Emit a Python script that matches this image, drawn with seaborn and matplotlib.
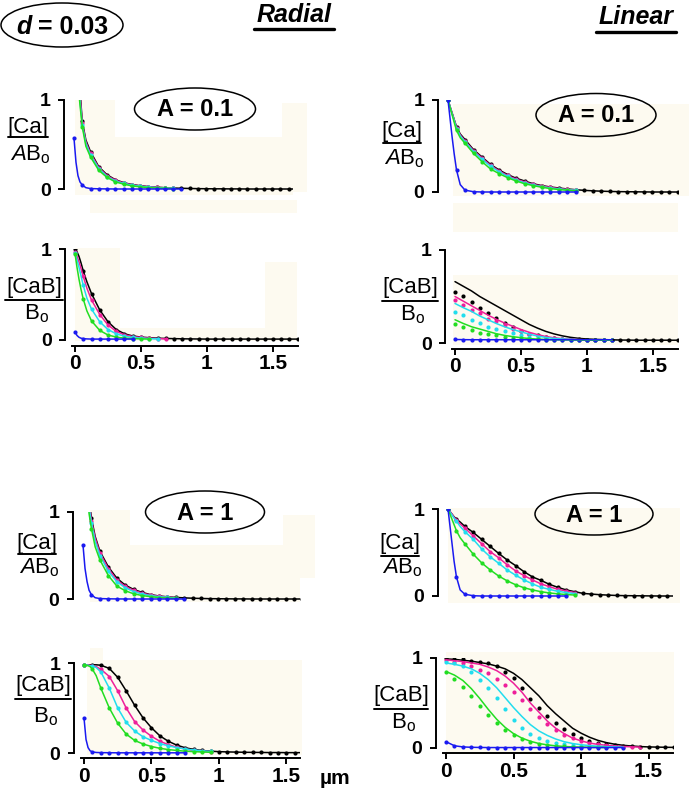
import numpy as np
import pandas as pd
import matplotlib
matplotlib.use("Agg")
import matplotlib.pyplot as plt
import seaborn as sns
from matplotlib.patches import Ellipse, Rectangle

sns.set_theme(style="white")
plt.rcParams["font.family"] = ["Liberation Sans", "DejaVu Sans"]
plt.rcParams["mathtext.fontset"] = "custom"
plt.rcParams["mathtext.rm"] = "Liberation Sans"
plt.rcParams["mathtext.it"] = "Liberation Sans:italic"
plt.rcParams["text.color"] = "black"
plt.rcParams["xtick.color"] = "black"
plt.rcParams["ytick.color"] = "black"

# distance grid (um) - lines drawn through every point, markers on the coarse subset
xs = [0.0, 0.015, 0.03, 0.045, 0.0625, 0.09, 0.125, 0.1875, 0.25, 0.3125, 0.375, 0.4375,
      0.5, 0.5625, 0.625, 0.6875, 0.75, 0.8125, 0.875, 0.9375, 1.0, 1.0625, 1.125, 1.1875,
      1.25, 1.3125, 1.375, 1.4375, 1.5, 1.5625, 1.625, 1.6875]
mark_idx = [0, 4] + list(range(6, 32))
# coarse grid for the linear [CaB] panels (lines and dots given separately)
xm = [0.0, 0.0625, 0.125, 0.1875, 0.25, 0.3125, 0.375, 0.4375, 0.5, 0.5625, 0.625, 0.6875,
      0.75, 0.8125, 0.875, 0.9375, 1.0, 1.0625, 1.125, 1.1875, 1.25, 1.3125, 1.375, 1.4375,
      1.5, 1.5625, 1.625, 1.6875]

# --- Radial, A = 0.1, [Ca]
black1 = [3.0, 2.0, 1.5, 1.12, 0.76, 0.55, 0.42, 0.25, 0.16, 0.105, 0.072, 0.05, 0.037, 0.027,
          0.02, 0.015, 0.011, 0.008, 0.006, 0.004, 0.003, 0.002, 0.002, 0.001, 0.001, 0.0, 0.0,
          0.0, 0.0, 0.0, 0.0, 0.0]
magenta1 = [2.8, 1.9, 1.4, 1.06, 0.74, 0.53, 0.40, 0.24, 0.15, 0.10, 0.068, 0.047, 0.034, 0.025,
            0.018, 0.013, 0.010]
cyan1 = [2.6, 1.8, 1.3, 1.0, 0.72, 0.51, 0.38, 0.23, 0.14, 0.09, 0.062, 0.043, 0.030, 0.022,
         0.016, 0.011, 0.008]
green1 = [2.4, 1.6, 1.2, 0.95, 0.70, 0.48, 0.36, 0.21, 0.13, 0.08, 0.055, 0.035, 0.024, 0.016,
          0.011, 0.008, 0.005]
blue1 = [0.57, 0.30, 0.15, 0.08, 0.045, 0.015, 0.005, 0.002, 0.001, 0.0, 0.0, 0.0, 0.0, 0.0,
         0.0, 0.0, 0.0, 0.0]

# --- Radial, A = 0.1, [CaB]
black2 = [1.0, 0.97, 0.92, 0.85, 0.76, 0.64, 0.51, 0.33, 0.2, 0.115, 0.068, 0.044, 0.032, 0.025,
          0.02, 0.017, 0.015, 0.013, 0.012, 0.011, 0.01, 0.01, 0.01, 0.01, 0.01, 0.01, 0.01,
          0.01, 0.01, 0.01, 0.01, 0.01]
magenta2 = [0.97, 0.92, 0.86, 0.79, 0.7, 0.57, 0.44, 0.28, 0.165, 0.095, 0.057, 0.038, 0.028,
            0.02, 0.015, 0.012]
cyan2 = [0.96, 0.88, 0.8, 0.71, 0.6, 0.46, 0.34, 0.2, 0.115, 0.068, 0.042, 0.028, 0.02, 0.015,
         0.012]
green2 = [0.95, 0.8, 0.67, 0.56, 0.45, 0.32, 0.21, 0.105, 0.055, 0.032, 0.02, 0.015, 0.012, 0.01]
blue2 = [0.09, 0.05, 0.03, 0.02, 0.015, 0.012, 0.01, 0.01, 0.01, 0.01, 0.01, 0.01]

# --- Linear, A = 0.1, [Ca]
black3 = [1.0, 0.93, 0.86, 0.79, 0.71, 0.63, 0.57, 0.46, 0.38, 0.30, 0.24, 0.19, 0.15, 0.12,
          0.09, 0.07, 0.055, 0.044, 0.033, 0.025, 0.018, 0.013, 0.009, 0.006, 0.004, 0.003,
          0.002, 0.001, 0.0, 0.0, 0.0, 0.0]
magenta3 = [1.0, 0.93, 0.855, 0.785, 0.70, 0.62, 0.555, 0.45, 0.37, 0.29, 0.23, 0.18, 0.14,
            0.11, 0.083, 0.064, 0.05, 0.038, 0.028, 0.021]
cyan3 = [1.0, 0.925, 0.85, 0.78, 0.69, 0.61, 0.545, 0.44, 0.355, 0.28, 0.22, 0.17, 0.13, 0.1,
         0.077, 0.058, 0.044, 0.033, 0.024, 0.018]
green3 = [1.0, 0.92, 0.84, 0.76, 0.67, 0.59, 0.53, 0.42, 0.33, 0.25, 0.20, 0.156, 0.12, 0.09,
          0.07, 0.052, 0.038, 0.027, 0.019, 0.013]
blue3 = [1.0, 0.8, 0.6, 0.42, 0.24, 0.08, 0.02, 0.003, 0.0, 0.0, 0.0, 0.0, 0.0, 0.0, 0.0, 0.0,
         0.0, 0.0, 0.0, 0.0]

# --- Linear, A = 0.1, [CaB]  (lines, then dots)
black4 = [0.66, 0.61, 0.56, 0.5, 0.45, 0.4, 0.35, 0.3, 0.25, 0.2, 0.16, 0.125, 0.098, 0.077,
          0.061, 0.05, 0.043, 0.039, 0.036, 0.034, 0.032, 0.031, 0.03, 0.03, 0.03, 0.03, 0.03, 0.03]
magenta4 = [0.5, 0.45, 0.4, 0.35, 0.3, 0.255, 0.215, 0.18, 0.145, 0.115, 0.09, 0.07, 0.056,
            0.047, 0.041, 0.037, 0.034, 0.032, 0.031, 0.03]
cyan4 = [0.425, 0.38, 0.34, 0.29, 0.25, 0.21, 0.175, 0.145, 0.12, 0.095, 0.075, 0.06, 0.05,
         0.043, 0.039, 0.036, 0.034, 0.032, 0.031, 0.03]
green4 = [0.25, 0.21, 0.175, 0.15, 0.125, 0.1, 0.082, 0.068, 0.057, 0.048, 0.042, 0.038, 0.035,
          0.033, 0.032, 0.031, 0.03, 0.03, 0.03, 0.03]
blue4 = [0.038, 0.036, 0.035, 0.035, 0.035, 0.035, 0.035, 0.035, 0.035, 0.035, 0.035, 0.035,
         0.035, 0.035, 0.035, 0.035, 0.035, 0.035, 0.035, 0.035]
black4_dots = [0.55, 0.5, 0.44, 0.38, 0.32, 0.27, 0.22, 0.17, 0.13, 0.1, 0.083, 0.066, 0.055,
               0.047, 0.042, 0.038, 0.035, 0.033, 0.032, 0.031, 0.03, 0.03, 0.03, 0.03, 0.03,
               0.03, 0.03, 0.03]
magenta4_dots = [0.46, 0.41, 0.35, 0.32, 0.26, 0.24, 0.19, 0.155, 0.13, 0.1, 0.08, 0.065, 0.055,
                 0.047, 0.041, 0.037, 0.034, 0.032, 0.031, 0.03]
cyan4_dots = [0.335, 0.30, 0.245, 0.216, 0.17, 0.155, 0.13, 0.108, 0.083, 0.065, 0.055, 0.047,
              0.042, 0.038, 0.035, 0.033, 0.032, 0.031, 0.03, 0.03]
green4_dots = [0.2, 0.17, 0.137, 0.108, 0.1, 0.083, 0.065, 0.058, 0.05, 0.044, 0.04, 0.036,
               0.034, 0.032, 0.031, 0.03, 0.03, 0.03, 0.03, 0.03]

# --- Radial, A = 1, [Ca]
black5 = [3.0, 2.0, 1.5, 1.15, 0.93, 0.72, 0.55, 0.37, 0.24, 0.16, 0.11, 0.076, 0.05, 0.035,
          0.025, 0.018, 0.013, 0.009, 0.006, 0.004, 0.003, 0.002, 0.001, 0.001, 0.0, 0.0, 0.0,
          0.0, 0.0, 0.0, 0.0, 0.0]
magenta5 = [2.9, 1.9, 1.45, 1.1, 0.9, 0.7, 0.53, 0.35, 0.22, 0.145, 0.1, 0.068, 0.045, 0.031,
            0.022, 0.015]
cyan5 = [2.8, 1.85, 1.4, 1.05, 0.87, 0.66, 0.5, 0.32, 0.2, 0.13, 0.085, 0.057, 0.038, 0.026,
         0.018, 0.012]
green5 = [2.5, 1.7, 1.3, 0.98, 0.81, 0.6, 0.45, 0.27, 0.15, 0.095, 0.06, 0.04, 0.026, 0.017,
          0.011, 0.007]
blue5 = [0.62, 0.35, 0.2, 0.1, 0.05, 0.015, 0.005, 0.002, 0.001, 0.0, 0.0, 0.0, 0.0, 0.0, 0.0,
         0.0, 0.0]

# --- Radial, A = 1, [CaB]
black6 = [0.98, 0.98, 0.98, 0.98, 0.98, 0.98, 0.975, 0.94, 0.84, 0.69, 0.53, 0.39, 0.28, 0.19,
          0.13, 0.087, 0.058, 0.04, 0.028, 0.02, 0.015, 0.012, 0.01, 0.008, 0.007, 0.006, 0.005,
          0.005, 0.004, 0.004, 0.004, 0.004]
magenta6 = [0.98, 0.98, 0.98, 0.975, 0.97, 0.96, 0.93, 0.85, 0.69, 0.5, 0.35, 0.255, 0.185,
            0.13, 0.093, 0.063, 0.044, 0.03, 0.021, 0.015]
cyan6 = [0.98, 0.98, 0.975, 0.97, 0.965, 0.95, 0.9, 0.72, 0.5, 0.34, 0.245, 0.18, 0.14, 0.105,
         0.08, 0.06, 0.045, 0.033, 0.024, 0.017]
green6 = [0.98, 0.975, 0.97, 0.96, 0.93, 0.86, 0.72, 0.5, 0.33, 0.21, 0.14, 0.1, 0.072, 0.052,
          0.038, 0.028, 0.02, 0.015, 0.011, 0.008]
blue6 = [0.39, 0.15, 0.06, 0.025, 0.012, 0.006, 0.004, 0.003, 0.002, 0.002, 0.002, 0.002, 0.002,
         0.002, 0.002, 0.002, 0.002]

# --- Linear, A = 1, [Ca]
black7 = [1.0, 0.97, 0.94, 0.91, 0.885, 0.85, 0.8, 0.73, 0.65, 0.57, 0.49, 0.415, 0.35, 0.28,
          0.22, 0.18, 0.135, 0.1, 0.07, 0.05, 0.03, 0.022, 0.015, 0.01, 0.006, 0.004, 0.003,
          0.002, 0.001, 0.0, 0.0, 0.0]
magenta7 = [1.0, 0.97, 0.94, 0.905, 0.877, 0.83, 0.78, 0.69, 0.6, 0.51, 0.44, 0.36, 0.29, 0.235,
            0.185, 0.14, 0.108, 0.077, 0.058, 0.04]
cyan7 = [1.0, 0.965, 0.93, 0.895, 0.86, 0.8, 0.74, 0.65, 0.54, 0.45, 0.377, 0.3, 0.24, 0.185,
         0.14, 0.1, 0.077, 0.054, 0.04, 0.028]
green7 = [1.0, 0.94, 0.88, 0.82, 0.75, 0.67, 0.6, 0.48, 0.38, 0.3, 0.23, 0.175, 0.13, 0.095,
          0.07, 0.05, 0.035, 0.025, 0.017, 0.011]
blue7 = [1.0, 0.8, 0.6, 0.4, 0.22, 0.07, 0.02, 0.003, 0.0, 0.0, 0.0, 0.0, 0.0, 0.0, 0.0, 0.0,
         0.0, 0.0, 0.0]

# --- Linear, A = 1, [CaB]  (lines, then dots)
black8 = [0.99, 0.985, 0.975, 0.965, 0.95, 0.935, 0.91, 0.88, 0.83, 0.76, 0.67, 0.58, 0.47,
          0.38, 0.3, 0.22, 0.165, 0.12, 0.085, 0.06, 0.042, 0.03, 0.022, 0.016, 0.012, 0.01,
          0.008, 0.007]
magenta8 = [0.98, 0.97, 0.96, 0.945, 0.93, 0.9, 0.86, 0.8, 0.72, 0.62, 0.5, 0.4, 0.3, 0.22,
            0.16, 0.11, 0.08, 0.055, 0.04, 0.03, 0.022, 0.017, 0.013, 0.01]
cyan8 = [0.945, 0.93, 0.91, 0.88, 0.83, 0.76, 0.67, 0.56, 0.45, 0.35, 0.26, 0.19, 0.14, 0.1,
         0.07, 0.05, 0.036, 0.027, 0.02, 0.015, 0.012, 0.01]
green8 = [0.85, 0.81, 0.75, 0.66, 0.55, 0.43, 0.32, 0.23, 0.16, 0.11, 0.075, 0.05, 0.035, 0.024,
          0.017, 0.012, 0.01, 0.008, 0.007, 0.006]
blue8 = [0.07, 0.025, 0.012, 0.008, 0.006, 0.005, 0.005, 0.005, 0.005, 0.005, 0.005, 0.005,
         0.005, 0.005, 0.005, 0.005, 0.005, 0.005, 0.005, 0.005, 0.005, 0.005]
black8_dots = [1.0, 0.99, 0.985, 0.97, 0.955, 0.94, 0.91, 0.85, 0.78, 0.67, 0.55, 0.45, 0.36,
               0.28, 0.21, 0.155, 0.11, 0.08, 0.055, 0.04, 0.03, 0.022, 0.017, 0.013, 0.01,
               0.008, 0.007, 0.006]
magenta8_dots = [0.98, 0.96, 0.94, 0.91, 0.87, 0.83, 0.77, 0.7, 0.62, 0.53, 0.43, 0.34, 0.27,
                 0.2, 0.15, 0.11, 0.075, 0.055, 0.04, 0.03, 0.022, 0.016, 0.012, 0.01]
cyan8_dots = [0.96, 0.945, 0.91, 0.85, 0.76, 0.67, 0.56, 0.43, 0.31, 0.22, 0.16, 0.11, 0.075,
              0.055, 0.04, 0.03, 0.022, 0.016, 0.012, 0.01, 0.008, 0.007]
green8_dots = [0.84, 0.77, 0.68, 0.58, 0.47, 0.37, 0.28, 0.2, 0.14, 0.1, 0.07, 0.05, 0.035,
               0.025, 0.018, 0.013, 0.01, 0.008, 0.007, 0.006]

colors = ["#000000", "#EE1F9A", "#22DDEE", "#22DD22", "#1A1AF0"]

W, H = 692, 790
fig = plt.figure(figsize=(W / 100, H / 100), dpi=100)

# faint cream blocks behind the plots (pixel boxes x0, y0, x1, y1)
cream_boxes = [(75, 100, 115, 195), (75, 137, 293, 195), (282, 103, 307, 192),
               (90, 200, 297, 213), (75, 248, 120, 341), (75, 328, 293, 341), (265, 262, 297, 341),
               (453, 104, 689, 196), (453, 203, 678, 232), (453, 275, 678, 345),
               (90, 510, 130, 602), (90, 545, 300, 602), (283, 515, 315, 578),
               (87, 660, 302, 755), (90, 648, 103, 662),
               (448, 508, 680, 603), (446, 652, 674, 752)]
bg = fig.add_axes([0, 0, 1, 1], zorder=0)
bg.set_xlim(0, W)
bg.set_ylim(H, 0)
bg.axis("off")
for bx0, by0, bx1, by1 in cream_boxes:
    bg.add_patch(Rectangle((bx0, by0), bx1 - bx0, by1 - by0, color="#FDFAF0", lw=0))

# panel frames: x of 0 um, px per um, y of 1 and 0, x end, has x axis
panels = [
    dict(x0=74, unit=132, y1=100, y0=189, xmax=1.66, xaxis=False,
         lines=[black1, magenta1, cyan1, green1, blue1]),
    dict(x0=75, unit=132, y1=249, y0=340, xmax=1.69, xaxis=True,
         lines=[black2, magenta2, cyan2, green2, blue2]),
    dict(x0=448, unit=136, y1=100, y0=192, xmax=1.69, xaxis=False,
         lines=[black3, magenta3, cyan3, green3, blue3]),
    dict(x0=455, unit=132, y1=250, y0=343, xmax=1.69, xaxis=True,
         lines=[black4, magenta4, cyan4, green4, blue4],
         dots=[black4_dots, magenta4_dots, cyan4_dots, green4_dots, blue4]),
    dict(x0=83, unit=135, y1=512, y0=599, xmax=1.61, xaxis=False,
         lines=[black5, magenta5, cyan5, green5, blue5]),
    dict(x0=84, unit=135, y1=663, y0=753, xmax=1.6, xaxis=True,
         lines=[black6, magenta6, cyan6, green6, blue6]),
    dict(x0=448, unit=135, y1=509, y0=596, xmax=1.67, xaxis=False,
         lines=[black7, magenta7, cyan7, green7, blue7]),
    dict(x0=446, unit=135, y1=658, y0=748, xmax=1.68, xaxis=True,
         lines=[black8, magenta8, cyan8, green8, blue8],
         dots=[black8_dots, magenta8_dots, cyan8_dots, green8_dots, blue8]),
]

for p in panels:
    left = p["x0"] - 0.02 * p["unit"]
    right = p["x0"] + p["xmax"] * p["unit"]
    bottom = p["y0"] + 0.03 * (p["y0"] - p["y1"])
    ax = fig.add_axes([left / W, 1 - bottom / H, (right - left) / W, (bottom - p["y1"]) / H],
                      zorder=1)
    ax.set_facecolor("none")

    if "dots" in p:
        for vals, c in zip(p["lines"], colors):
            sns.lineplot(x=xm[:len(vals)], y=vals, ax=ax, color=c, lw=1.1,
                         sort=False, estimator=None)
        for vals, c in zip(p["dots"], colors):
            sns.scatterplot(x=xm[:len(vals)], y=vals, ax=ax, color=c, s=9, linewidth=0)
    else:
        for vals, c in zip(p["lines"], colors):
            n = len(vals)
            sns.lineplot(x=xs[:n], y=vals, ax=ax, color=c, lw=1.1, sort=False, estimator=None,
                         marker="o", markersize=3, markeredgewidth=0, markeredgecolor=c,
                         markevery=[i for i in mark_idx if i < n])

    ax.set_xlim(-0.02, p["xmax"])
    ax.set_ylim(-0.03, 1.0)
    ax.set_xlabel("")
    ax.set_ylabel("")
    sns.despine(ax=ax, bottom=not p["xaxis"], offset={"left": 5, "bottom": 2})
    ax.spines["left"].set_bounds(0, 1)
    for s in ["left", "bottom"]:
        ax.spines[s].set_color("black")
        ax.spines[s].set_linewidth(1.4)
    ax.set_yticks([0, 1])
    ax.set_yticklabels(["0", "1"], fontsize=14, fontweight="bold")
    ax.tick_params(axis="y", left=True, direction="out", length=4, width=1.4, pad=6)
    if p["xaxis"]:
        ax.set_xticks([0, 0.5, 1, 1.5])
        ax.set_xticklabels(["0", "0.5", "1", "1.5"], fontsize=15, fontweight="bold")
        ax.tick_params(axis="x", bottom=True, direction="out", length=4, width=1.4, pad=2)
    else:
        ax.set_xticks([])

# text layer in pixel coordinates
fg = fig.add_axes([0, 0, 1, 1], zorder=3)
fg.set_xlim(0, W)
fg.set_ylim(H, 0)
fg.axis("off")
fg.patch.set_visible(False)

ovals = [(62, 25, 122, 44, ""), (195, 109, 121, 42, "A = 0.1"), (596, 115, 120, 43, "A = 0.1"),
         (205, 512, 119, 42, "A = 1"), (594, 514, 118, 42, "A = 1")]
for cx, cy, w, h, label in ovals:
    fg.add_patch(Ellipse((cx, cy), w, h, fill=False, ec="black", lw=1.1))
    if label:
        fg.text(cx, cy + 1, label, ha="center", va="center", fontsize=17, fontweight="bold")

fg.text(32, 27, "d", ha="right", va="center", fontsize=18, fontweight="bold", fontstyle="italic")
fg.text(38, 27, "= 0.03", ha="left", va="center", fontsize=18, fontweight="bold")

fg.text(294, 15, "Radial", ha="center", va="center", fontsize=18, fontweight="bold",
        fontstyle="italic")
fg.plot([254, 334], [29, 29], color="black", lw=2.4)
fg.text(636, 17, "Linear", ha="center", va="center", fontsize=18, fontweight="bold",
        fontstyle="italic")
fg.plot([596, 676], [32, 32], color="black", lw=2.4)

ca_den = r"$\mathit{A}\mathrm{B}_\mathrm{o}$"
cab_den = r"$\mathrm{B}_\mathrm{o}$"
ylabels = [(28, 128, 137, 155, 20, "[Ca]", ca_den), (34, 288, 300, 314, 29, "[CaB]", cab_den),
           (402, 131, 143, 159, 19, "[Ca]", ca_den), (410, 287, 301, 315, 28, "[CaB]", cab_den),
           (37, 543, 554, 568, 19, "[Ca]", ca_den), (43, 686, 699, 717, 28, "[CaB]", cab_den),
           (400, 544, 556, 568, 19, "[Ca]", ca_den), (401, 696, 709, 723, 27, "[CaB]", cab_den)]
for cx, ny, ly, dy, hw, num, den in ylabels:
    fg.text(cx, ny, num, ha="center", va="center", fontsize=16)
    fg.plot([cx - hw, cx + hw], [ly, ly], color="black", lw=1.4)
    fg.text(cx + 2, dy, den, ha="center", va="center", fontsize=16)

fg.text(335, 779, "µm", ha="center", va="center", fontsize=15, fontweight="bold")

fig.savefig("out.png", dpi=100)
